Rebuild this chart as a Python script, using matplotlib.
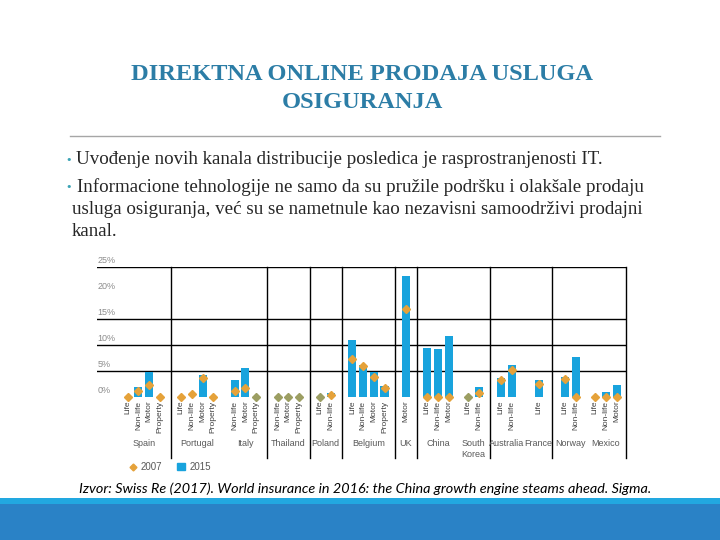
import matplotlib
matplotlib.use('Agg')
import matplotlib.pyplot as plt
from matplotlib.lines import Line2D
from matplotlib.patches import Patch, Rectangle

# Podaci (udio direktne online prodaje, %)
countries = ['Spain', 'Portugal', 'Italy', 'Thailand', 'Poland', 'Belgium', 'UK',
             'China', 'South\nKorea', 'Australia', 'France', 'Norway', 'Mexico']
lines_of_business = [
    ['Life', 'Non-life', 'Motor', 'Property'],
    ['Life', 'Non-life', 'Motor', 'Property'],
    ['Non-life', 'Motor', 'Property'],
    ['Non-life', 'Motor', 'Property'],
    ['Life', 'Non-life'],
    ['Life', 'Non-life', 'Motor', 'Property'],
    ['Motor'],
    ['Life', 'Non-life', 'Motor'],
    ['Life', 'Non-life'],
    ['Life', 'Non-life'],
    ['Life'],
    ['Life', 'Non-life'],
    ['Life', 'Non-life', 'Motor'],
]
share_2015 = [
    [None, 2.0, 4.7, None],
    [None, None, 4.2, None],
    [3.3, 5.6, 0.0],
    [0.0, 0.0, 0.0],
    [0.0, 0.7],
    [10.9, 6.1, 4.7, 2.1],
    [23.2],
    [9.35, 9.2, 11.7],
    [0.0, 2.0],
    [3.6, 6.1],
    [3.3],
    [3.8, 7.7],
    [None, 1.0, 2.3],
]
share_2007 = [
    [0.0, 1.15, 2.3, 0.0],
    [0.0, 0.5, 3.7, 0.0],
    [1.15, 1.8, 0.0],
    [0.0, 0.0, 0.0],
    [0.0, 0.3],
    [7.35, 6.0, 3.8, 1.8],
    [16.9],
    [0.0, 0.0, 0.0],
    [0.0, 0.8],
    [3.3, 5.1],
    [2.5],
    [3.4, 0.0],
    [0.0, 0.0, 0.0],
]
y_ticks = [0, 5, 10, 15, 20, 25]
grid_at = [5, 10, 15, 25]

# raspored grupa na x osi
group_start = [0, 5, 10, 14, 18, 21, 26, 28, 31.8, 34.9, 38.4, 40.9, 43.7]
separator_after = ['Spain', 'Italy', 'Thailand', 'Poland', 'Belgium', 'UK', 'South\nKorea', 'France']

bar_color = '#18A3DD'
dot_color = '#E5A23A'
olive = '#9C9E62'

fig = plt.figure(figsize=(7.2, 5.4), dpi=100)
fig.patch.set_facecolor('white')

# naslov i tekst slajda
title_color = '#2C7DA6'
fig.text(0.503, 1 - 75 / 540, 'DIREKTNA ONLINE PRODAJA USLUGA', ha='center', va='center',
         fontsize=17.6, weight='bold', family='Liberation Serif', color=title_color)
fig.text(0.503, 1 - 103 / 540, 'OSIGURANJA', ha='center', va='center',
         fontsize=17.6, weight='bold', family='Liberation Serif', color=title_color)
fig.add_artist(Line2D([70 / 720, 660 / 720], [1 - 136 / 540] * 2, color='#A6A6A6', lw=1))

bullet_color = '#3BA3B5'
text_color = '#262626'
body = dict(ha='left', va='center', fontsize=13.7, family='Liberation Serif', color=text_color)
for y in [160, 187]:
    fig.text(65 / 720, 1 - y / 540, '•', ha='left', va='center', fontsize=8, color=bullet_color)
fig.text(76 / 720, 1 - 160 / 540, 'Uvođenje novih kanala distribucije posledica je rasprostranjenosti IT.', **body)
fig.text(77 / 720, 1 - 187 / 540, 'Informacione tehnologije ne samo da su pružile podršku i olakšale prodaju', **body)
fig.text(72 / 720, 1 - 210 / 540, 'usluga osiguranja, već su se nametnule kao nezavisni samoodrživi prodajni', **body)
fig.text(72 / 720, 1 - 232 / 540, 'kanal.', **body)

fig.text(79 / 720, 1 - 489 / 540,
         'Izvor: Swiss Re (2017). World insurance in 2016: the China growth engine steams ahead. Sigma.',
         ha='left', va='center', fontsize=10.4, family='Lato', style='italic', color='black')

# donje trake
fig.add_artist(Rectangle((0, 0), 1, 36 / 540, transform=fig.transFigure, color='#2A82C6', lw=0))
fig.add_artist(Rectangle((0, 36 / 540), 1, 6 / 540, transform=fig.transFigure, color='#22A8E0', lw=0))

# grafikon
ax = fig.add_axes([97 / 720, (540 - 402.2) / 540, 529 / 720, 135.5 / 540])
ax.set_xlim(-2.87, 46.57)
ax.set_ylim(-1, 25)
for s in ax.spines.values():
    s.set_visible(False)
ax.set_xticks([])
ax.set_yticks([])

for v in grid_at:
    ax.axhline(v, color='black', lw=1)
for v in y_ticks:
    ax.text(-2.8, v + 1.15, f'{v}%', ha='left', va='center', fontsize=6.5,
            family='Liberation Sans', color='#8C8C8C')

centers = []
for g, name in enumerate(countries):
    xs = [group_start[g] + i for i in range(len(lines_of_business[g]))]
    centers.append(sum(xs) / len(xs))
    for x, lob, v15, v07 in zip(xs, lines_of_business[g], share_2015[g], share_2007[g]):
        if v15:
            ax.bar(x, v15, width=0.75, color=bar_color, zorder=2)
        c = olive if v15 == 0 else dot_color
        ax.plot(x, v07, marker='D', markersize=4.5, color=c, zorder=3, clip_on=False)
        ax.text(x, -0.7, lob, rotation=90, ha='center', va='top', fontsize=6,
                family='Liberation Sans', color='#404040')
    ax.text(centers[-1], -8.0, name, ha='center', va='top', fontsize=6.5,
            family='Liberation Sans', color='#595959', linespacing=1.3)

# vertikalne linije izmedju grupa
for name in separator_after:
    g = countries.index(name)
    last = group_start[g] + len(lines_of_business[g]) - 1
    xsep = (last + group_start[g + 1]) / 2
    ax.plot([xsep, xsep], [25, -11.7], color='black', lw=1, clip_on=False)
ax.plot([46.57, 46.57], [25, -11.7], color='black', lw=1, clip_on=False)

handles = [Line2D([], [], marker='D', markersize=3.5, color=dot_color, lw=0),
           Patch(color=bar_color)]
fig.legend(handles, ['2007', '2015'], loc='center left', bbox_to_anchor=(120 / 720, 1 - 467 / 540),
           ncol=2, frameon=False, handlelength=0.8, handletextpad=0.4,
           columnspacing=1.6, labelcolor='#595959', prop={'family': 'Liberation Sans', 'size': 7})

fig.savefig('out.png', dpi=100)
